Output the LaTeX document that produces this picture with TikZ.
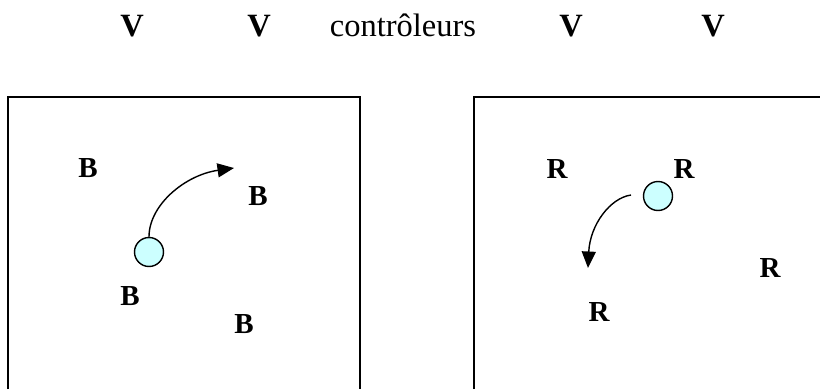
\documentclass[tikz,border=0pt]{standalone}
\usepackage{fontspec}
\setmainfont{Liberation Serif}
\usetikzlibrary{arrows.meta}
\definecolor{cDot}{RGB}{204,255,255}

\begin{document}
\begin{tikzpicture}[
  x=0.02cm, y=-0.02cm,
  >={Triangle[length=0.33cm,width=0.28cm]},
  lbl/.style={font=\bfseries\fontsize{16.5}{19}\selectfont, inner sep=0pt},
  top/.style={font=\fontsize{18.5}{22}\selectfont, inner sep=0pt, anchor=base},
  vtop/.style={top, font=\bfseries\fontsize{18.5}{22}\selectfont},
  dot/.style={circle, draw, fill=cDot, line width=0.8pt,
    minimum size=0.58cm, inner sep=0pt},
  box/.style={line width=0.75pt},
  arr/.style={->, line width=0.8pt}
]
\useasboundingbox (0,0) rectangle (820,389);

% Controllers
\node[vtop] (v1) at (132,36) {V};
\node[vtop] (v2) at (259,36) {V};
\node[top] (ctrl) at (403,36) {contrôleurs};
\node[vtop] (v3) at (571,36) {V};
\node[vtop] (v4) at (713,36) {V};

% Left region
\draw[box] (8,389) -- (8,97) -- (360,97) -- (360,389);
\node[lbl] (b1) at (88,168) {B};
\node[lbl] (b2) at (258,196) {B};
\node[lbl] (b3) at (130,296) {B};
\node[lbl] (b4) at (244,324) {B};
\node[dot] (dotB) at (149,252) {};
\coordinate (tipB) at (234,168);
\draw[arr] (dotB.north) .. controls (149,205) and (185,175) .. (tipB);

% Right region
\draw[box] (474,389) -- (474,97) -- (820,97);
\node[lbl] (r1) at (557,169) {R};
\node[lbl] (r2) at (684,169) {R};
\node[lbl] (r3) at (770,268) {R};
\node[lbl] (r4) at (599,312) {R};
\node[dot] (dotR) at (658,196) {};
\coordinate (startR) at (631,195);
\coordinate (tipR) at (588,268);
\draw[arr] (startR) .. controls (610,198) and (590,225) .. (tipR);

\end{tikzpicture}
\end{document}
